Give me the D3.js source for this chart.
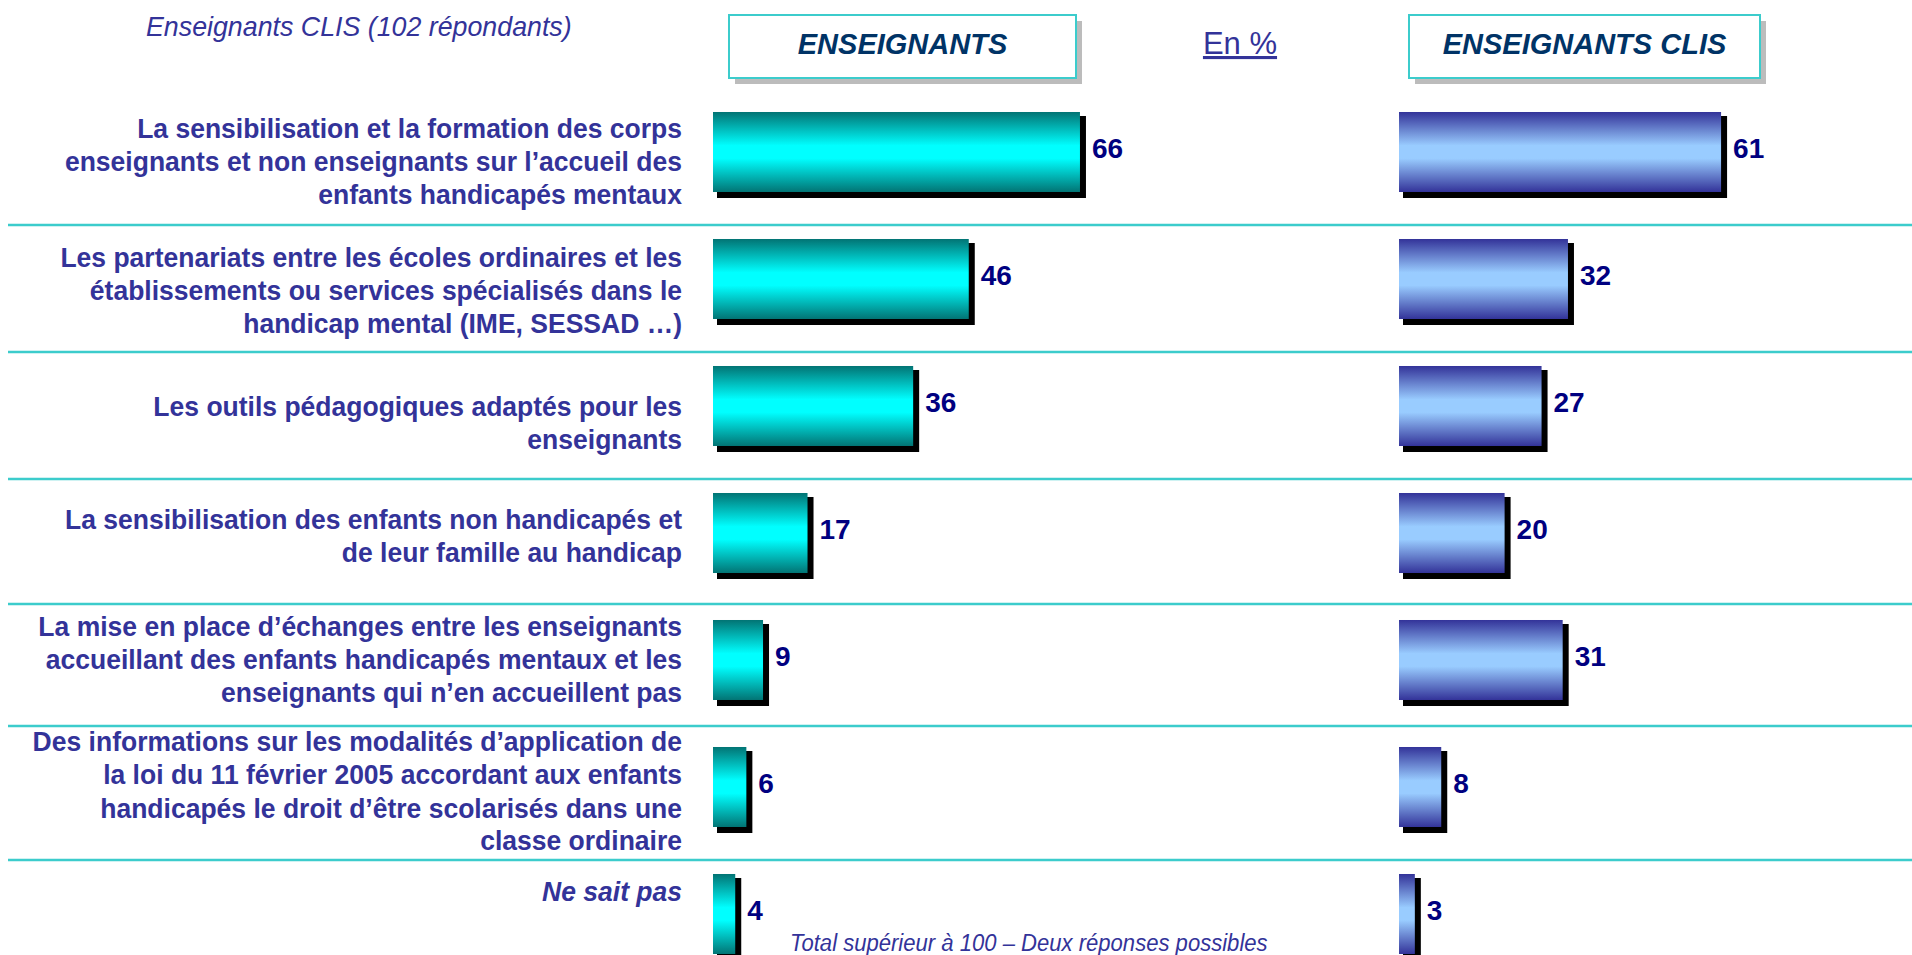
<!DOCTYPE html>
<html>
<head>
<meta charset="utf-8">
<script src="https://cdn.jsdelivr.net/npm/d3@7"></script>
<style>
  html, body { margin: 0; padding: 0; background: #fff; overflow: hidden; }
  svg { display: block; }
</style>
</head>
<body>
<script>
'use strict'

var width = 1912
var height = 955

// row labels (split in lines as on the slide)
var categories = [
  ['La sensibilisation et la formation des corps', 'enseignants et non enseignants sur l\u2019accueil des', 'enfants handicapés mentaux'],
  ['Les partenariats entre les écoles ordinaires et les', 'établissements ou services spécialisés dans le', 'handicap mental (IME, SESSAD \u2026)'],
  ['Les outils pédagogiques adaptés pour les', 'enseignants'],
  ['La sensibilisation des enfants non handicapés et', 'de leur famille au handicap'],
  ['La mise en place d\u2019échanges entre les enseignants', 'accueillant des enfants handicapés mentaux et les', 'enseignants qui n\u2019en accueillent pas'],
  ['Des informations sur les modalités d\u2019application de', 'la loi du 11 février 2005 accordant aux enfants', 'handicapés le droit d\u2019être scolarisés dans une', 'classe ordinaire'],
  ['Ne sait pas']
]
var enseignants = [66, 46, 36, 17, 9, 6, 4]
var enseignantsClis = [61, 32, 27, 20, 31, 8, 3]
var seriesNames = ['ENSEIGNANTS', 'ENSEIGNANTS CLIS']
var unitLabel = 'En %'
var subtitle = 'Enseignants CLIS (102 répondants)'
var footnote = 'Total supérieur à 100 \u2013 Deux réponses possibles'

var font = 'Liberation Sans, Arial, sans-serif'
var labelColor = '#333399'
var valueColor = '#000080'
var gridColor = '#3ccccc'

// hand layout of the slide: label block nudge and separator gap per row
var labelNudge = [9, 11, 17, 3, -1, 4, -23]
var sepGap = [0, 14, 14, 14, 16, 21, 14]

var svg = d3.select('body').append('svg')
  .attr('width', width)
  .attr('height', height)

var defs = svg.append('defs')

function addGradient (id, edge, mid) {
  var g = defs.append('linearGradient')
    .attr('id', id)
    .attr('x1', 0).attr('y1', 0).attr('x2', 0).attr('y2', 1)
  g.append('stop').attr('offset', '0%').attr('stop-color', edge)
  g.append('stop').attr('offset', '42%').attr('stop-color', mid)
  g.append('stop').attr('offset', '58%').attr('stop-color', mid)
  g.append('stop').attr('offset', '100%').attr('stop-color', edge)
}
addGradient('gradTeal', '#027474', '#00ffff')
addGradient('gradBlue', '#333399', '#99ccff')

var rows = categories.map(function (lines, i) {
  return { key: i, lines: lines, a: enseignants[i], b: enseignantsClis[i] }
})

var y = d3.scaleBand()
  .domain(rows.map(function (d) { return d.key }))
  .range([88.5, 977.5])
  .paddingInner(0.37)
  .paddingOuter(0.185)

var xA = d3.scaleLinear().domain([0, 100]).range([713, 713 + 556])
var xB = d3.scaleLinear().domain([0, 100]).range([1399, 1399 + 528])

// separators between rows
svg.append('g').selectAll('line')
  .data(rows.slice(1))
  .enter().append('line')
  .attr('x1', 8)
  .attr('x2', width)
  .attr('y1', function (d) { return y(d.key) - sepGap[d.key] })
  .attr('y2', function (d) { return y(d.key) - sepGap[d.key] })
  .attr('stroke', gridColor)
  .attr('stroke-width', 2.5)

// row labels, slightly condensed like the slide font
var lineH = 33
var label = svg.append('g').selectAll('text')
  .data(rows)
  .enter().append('text')
  .attr('transform', 'translate(682,0) scale(0.93,1)')
  .attr('text-anchor', 'end')
  .attr('font-family', font)
  .attr('font-weight', 'bold')
  .attr('font-size', 28.5)
  .attr('font-style', function (d, i) { return i === rows.length - 1 ? 'italic' : 'normal' })
  .attr('fill', labelColor)

label.each(function (d, i) {
  var n = d.lines.length
  var cy = y(d.key) + y.bandwidth() / 2 + labelNudge[i]
  var first = cy - (n - 1) * lineH / 2 + 10
  d3.select(this).selectAll('tspan')
    .data(d.lines)
    .enter().append('tspan')
    .attr('x', 0)
    .attr('y', function (l, j) { return first + j * lineH })
    .text(function (l) { return l })
})

function drawSeries (x, key, grad) {
  var g = svg.append('g')
  g.selectAll('rect.shadow')
    .data(rows)
    .enter().append('rect')
    .attr('class', 'shadow')
    .attr('x', x(0) + 4)
    .attr('y', function (d) { return y(d.key) + 4 })
    .attr('width', function (d) { return x(d[key]) - x(0) + 2 })
    .attr('height', y.bandwidth() + 2)
    .attr('fill', '#000')

  g.selectAll('rect.bar')
    .data(rows)
    .enter().append('rect')
    .attr('class', 'bar')
    .attr('x', x(0))
    .attr('y', function (d) { return y(d.key) })
    .attr('width', function (d) { return x(d[key]) - x(0) })
    .attr('height', y.bandwidth())
    .attr('fill', 'url(#' + grad + ')')

  g.selectAll('text')
    .data(rows)
    .enter().append('text')
    .attr('x', function (d) { return x(d[key]) + 12 })
    .attr('y', function (d) { return y(d.key) + y.bandwidth() / 2 + 6 })
    .attr('font-family', font)
    .attr('font-weight', 'bold')
    .attr('font-size', 28)
    .attr('fill', valueColor)
    .text(function (d) { return d[key] })
}
drawSeries(xA, 'a', 'gradTeal')
drawSeries(xB, 'b', 'gradBlue')

// header boxes
var boxes = [
  { name: seriesNames[0], x0: 729, x1: 1076 },
  { name: seriesNames[1], x0: 1409, x1: 1760 }
]
var hb = svg.append('g').selectAll('g')
  .data(boxes)
  .enter().append('g')

hb.append('rect')
  .attr('x', function (d) { return d.x0 + 6 })
  .attr('y', 21)
  .attr('width', function (d) { return d.x1 - d.x0 })
  .attr('height', 63)
  .attr('fill', '#bcbcbc')

hb.append('rect')
  .attr('x', function (d) { return d.x0 })
  .attr('y', 15)
  .attr('width', function (d) { return d.x1 - d.x0 })
  .attr('height', 63)
  .attr('fill', '#fff')
  .attr('stroke', gridColor)
  .attr('stroke-width', 2)

hb.append('text')
  .attr('x', function (d) { return (d.x0 + d.x1) / 2 })
  .attr('y', 54)
  .attr('text-anchor', 'middle')
  .attr('font-family', font)
  .attr('font-weight', 'bold')
  .attr('font-style', 'italic')
  .attr('font-size', 29)
  .attr('fill', '#003366')
  .text(function (d) { return d.name })

svg.append('text')
  .attr('x', 1240)
  .attr('y', 54)
  .attr('text-anchor', 'middle')
  .attr('font-family', font)
  .attr('font-size', 31)
  .attr('text-decoration', 'underline')
  .attr('fill', labelColor)
  .text(unitLabel)

svg.append('text')
  .attr('transform', 'translate(146,36) scale(0.94,1)')
  .attr('font-family', font)
  .attr('font-style', 'italic')
  .attr('font-size', 28.5)
  .attr('fill', labelColor)
  .text(subtitle)

svg.append('text')
  .attr('transform', 'translate(790,951) scale(0.92,1)')
  .attr('font-family', font)
  .attr('font-style', 'italic')
  .attr('font-size', 24)
  .attr('fill', labelColor)
  .text(footnote)
</script>
</body>
</html>
